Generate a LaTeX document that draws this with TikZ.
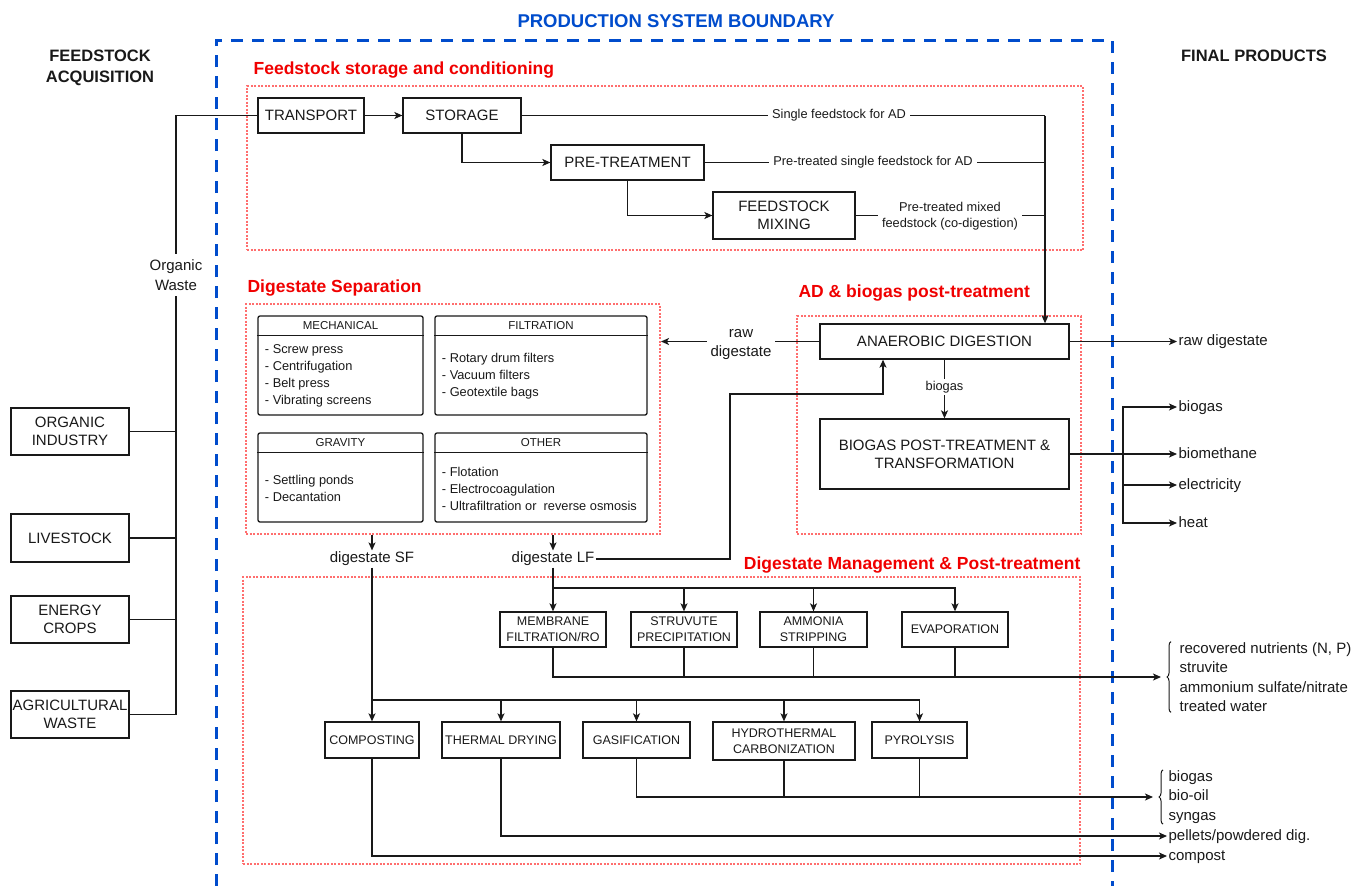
\documentclass[tikz,border=0pt]{standalone}
\usepackage{fontspec}
\setmainfont{Liberation Sans}
\usetikzlibrary{arrows.meta,positioning,calc,decorations.pathreplacing}

\definecolor{boundblue}{RGB}{0,76,204}
\definecolor{secred}{RGB}{240,0,0}
\definecolor{dotred}{RGB}{255,110,110}
\definecolor{ink}{RGB}{25,25,25}
\newcommand{\fsz}[2]{\fontsize{#1}{#2}\selectfont}

\begin{document}
\begin{tikzpicture}[x=1pt, y=-1pt, color=ink, line width=1.2pt,
  >={Stealth[length=8pt,width=7pt,inset=2pt]}]
\tikzset{
  every node/.style={text=ink},
  box/.style={draw, fill=white, line width=1.3pt, align=center, inner sep=1pt, font=\fsz{15}{18}},
  smallbox/.style={box, font=\fsz{12.5}{16}},
  catbox/.style={draw, fill=white, line width=1.3pt, rounded corners=2pt},
  cathead/.style={font=\fsz{11.5}{14}, inner sep=0pt},
  catlist/.style={anchor=west, align=left, font=\fsz{12.8}{17}, inner sep=0pt},
  section/.style={draw=dotred, line width=2pt, dash pattern=on 2pt off 1.5pt, inner sep=0pt},
  sectitle/.style={anchor=west, text=secred, font=\bfseries\fsz{17.5}{20}, inner sep=0pt},
  flowlabel/.style={fill=white, font=\fsz{12.8}{16}, align=center, inner xsep=4pt, inner ysep=2pt},
  midlabel/.style={font=\fsz{15}{18}, inner sep=1pt},
  product/.style={anchor=west, font=\fsz{15}{18}, inner xsep=1pt, inner ysep=0pt, text height=11pt, text depth=3pt},
  productlist/.style={anchor=west, align=left, font=\fsz{15}{19.5}, inner sep=0pt},
  heading/.style={font=\bfseries\fsz{16.5}{21}, align=center},
  brace/.style={decorate, decoration={brace, amplitude=4pt}, line width=1pt}
}
\useasboundingbox (0,0) rectangle (1368,886);

\draw[boundblue, line width=3pt, dash pattern=on 12pt off 9pt] (216,886) -- (216,40) -- (1112,40) -- (1112,886);
\node[text=boundblue, font=\bfseries\fsz{18.5}{22}] (boundary) at (676,21) {PRODUCTION SYSTEM BOUNDARY};
\node[heading] (acq) at (100,68) {FEEDSTOCK\\ACQUISITION};
\node[heading] (final) at (1254,56) {FINAL PRODUCTS};

\node[section, minimum width=836pt, minimum height=164pt] (storsec) at (665,168) {};
\node[section, minimum width=414pt, minimum height=230pt] (sepsec) at (453,419) {};
\node[section, minimum width=284pt, minimum height=218pt] (adsec) at (939,425) {};
\node[section, minimum width=837pt, minimum height=287pt] (mansec) at (661.5,720.5) {};
\node[sectitle] (storttl) at (253,70) {Feedstock storage and conditioning};
\node[sectitle] (septtl) at (247,288) {Digestate Separation};
\node[sectitle] (adttl) at (798,293) {AD \& biogas post-treatment};
\node[sectitle, anchor=east] (manttl) at (1081,565) {Digestate Management \& Post-treatment};

\node[box, minimum width=118pt, minimum height=47pt] (orgind) at (70,431.5) {ORGANIC\\INDUSTRY};
\node[box, minimum width=118pt, minimum height=48pt] (live) at (70,538) {LIVESTOCK};
\node[box, minimum width=118pt, minimum height=47pt] (energy) at (70,619.5) {ENERGY\\CROPS};
\node[box, minimum width=118pt, minimum height=47pt, inner xsep=0pt] (agri) at (70,714.5) {AGRICULTURAL\\WASTE};

\node[box, minimum width=106pt, minimum height=35pt] (trans) at (311,115.5) {TRANSPORT};
\node[box, minimum width=118pt, minimum height=35pt] (stor) at (462,115.5) {STORAGE};
\node[box, minimum width=153pt, minimum height=35pt] (pretr) at (627.5,162.5) {PRE-TREATMENT};
\node[box, minimum width=142pt, minimum height=47pt] (mix) at (784,215.5) {FEEDSTOCK\\MIXING};

\coordinate (trunk) at (176,115.5);
\draw (agri.east) -| (trunk) -- (trans.west);
\foreach \src in {orgind,live,energy}
  \draw (\src.east) -- (\src.east -| trunk);
\node[flowlabel, font=\fsz{15}{20}, inner ysep=5pt] (waste) at (176,275) {Organic\\Waste};

\draw[->] (trans) -- (stor);
\draw[->] (stor.south) |- (pretr.west);
\draw[->] (pretr.south) |- (mix.west);

\node[box, minimum width=249pt, minimum height=35pt] (ad) at (944.5,341.5) {ANAEROBIC DIGESTION};
\node[box, minimum width=249pt, minimum height=70pt] (bpt) at (944.5,454) {BIOGAS POST-TREATMENT \&\\TRANSFORMATION};

\coordinate (feed) at (1045,115.5);
\draw (stor.east) -- (feed);
\draw (pretr.east) -- (pretr.east -| feed);
\draw (mix.east) -- (mix.east -| feed);
\draw[->] (feed) -- (feed |- ad.north);
\node[flowlabel] (single) at (839,115.5) {Single feedstock for AD};
\node[flowlabel] (pretrlbl) at (873,162.5) {Pre-treated single feedstock for AD};
\node[flowlabel] (mixlbl) at (950,216) {Pre-treated mixed\\feedstock (co-digestion)};

\draw[->] (ad) -- (bpt);
\node[flowlabel, inner xsep=2pt] (gaslbl) at (944.5,387) {biogas};
\draw[->] (ad.west) -- (ad.west -| sepsec.east);
\node[flowlabel, font=\fsz{15}{19}] (rawlbl) at (741,345) {raw\\digestate};

\node[product] (rawout) at (1177,341.5) {raw digestate};
\draw[->] (ad.east) -- (rawout.west);
\node[product] (gasout) at (1177,407) {biogas};
\node[product] (methout) at (1177,454) {biomethane};
\node[product] (elecout) at (1177,485) {electricity};
\node[product] (heatout) at (1177,523) {heat};
\coordinate (esplit) at (1123,454);
\draw[->] (bpt.east) -- (methout.west);
\draw[->] (esplit) |- (gasout.west);
\draw[->] (esplit) |- (heatout.west);
\draw[->] (esplit |- elecout.west) -- (elecout.west);

\node[catbox, minimum width=165pt, minimum height=99pt] (mech) at (340.5,365.5) {};
\node[catbox, minimum width=212pt, minimum height=99pt] (filt) at (541,365.5) {};
\node[catbox, minimum width=165pt, minimum height=89pt] (grav) at (340.5,477.5) {};
\node[catbox, minimum width=212pt, minimum height=89pt] (other) at (541,477.5) {};
\foreach \cat/\ttl in {mech/MECHANICAL, filt/FILTRATION, grav/GRAVITY, other/OTHER} {
  \draw[line width=1.3pt] ([yshift=-20pt]\cat.north west) -- ([yshift=-20pt]\cat.north east);
  \node[cathead] (\cat-ttl) at ([yshift=-10pt]\cat.north) {\ttl};
}
\node[catlist] (mech-list) at ([xshift=7pt,yshift=-10.5pt]mech.west) {- Screw press\\- Centrifugation\\- Belt press\\- Vibrating screens};
\node[catlist] (filt-list) at ([xshift=7pt,yshift=-11pt]filt.west) {- Rotary drum filters\\- Vacuum filters\\- Geotextile bags};
\node[catlist] (grav-list) at ([xshift=7pt,yshift=-10.5pt]grav.west) {- Settling ponds\\- Decantation};
\node[catlist] (other-list) at ([xshift=7pt,yshift=-11pt]other.west) {- Flotation\\- Electrocoagulation\\- Ultrafiltration or~ reverse osmosis};

\node[midlabel] (sf) at (372,559) {digestate SF};
\node[midlabel] (lf) at (553,559) {digestate LF};
\draw[->] (sf.north |- sepsec.south) -- (sf.north);
\draw[->] (lf.north |- sepsec.south) -- (lf.north);
\draw[->] (lf.east) -| (730,394) -| ([xshift=-61.5pt]ad.south);

\node[smallbox, minimum width=106pt, minimum height=35pt] (mem) at (553,629.5) {MEMBRANE\\FILTRATION/RO};
\node[smallbox, minimum width=106pt, minimum height=35pt] (stru) at (684,629.5) {STRUVUTE\\PRECIPITATION};
\node[smallbox, minimum width=107pt, minimum height=35pt] (amm) at (813.5,629.5) {AMMONIA\\STRIPPING};
\node[smallbox, minimum width=106pt, minimum height=35pt] (evap) at (955,629.5) {EVAPORATION};

\node[smallbox, minimum width=94pt, minimum height=36pt] (comp) at (372,740) {COMPOSTING};
\node[smallbox, minimum width=118pt, minimum height=36pt] (dry) at (501,740) {THERMAL DRYING};
\node[smallbox, minimum width=107pt, minimum height=36pt] (gasif) at (636.5,740) {GASIFICATION};
\node[smallbox, minimum width=142pt, minimum height=38pt] (htc) at (784,741) {HYDROTHERMAL\\CARBONIZATION};
\node[smallbox, minimum width=95pt, minimum height=36pt] (pyro) at (919.5,740) {PYROLYSIS};

\coordinate (lfsplit) at (553,588);
\draw[->] (lf) -- (mem);
\draw[->] (lfsplit) -| (evap.north);
\foreach \n in {stru,amm}
  \draw[->] (\n.north |- lfsplit) -- (\n.north);

\node[productlist] (nut) at (1179,677) {recovered nutrients (N, P)\\struvite\\ammonium sulfate/nitrate\\treated water};
\draw[->] (mem.south) |- ([xshift=-18pt]nut.west);
\foreach \n in {stru,amm,evap}
  \draw (\n.south) -- (\n.south |- nut.west);
\draw[brace] ([xshift=-8pt]nut.south west) -- ([xshift=-8pt]nut.north west);

\coordinate (sfsplit) at (372,700);
\draw[->] (sf) -- (comp);
\draw[->] (sfsplit) -| (pyro.north);
\foreach \n in {dry,gasif,htc}
  \draw[->] (\n.north |- sfsplit) -- (\n.north);

\node[productlist] (gasprod) at (1168,797) {biogas\\bio-oil\\syngas};
\draw[->] (gasif.south) |- ([xshift=-15pt]gasprod.west);
\foreach \n in {htc,pyro}
  \draw (\n.south) -- (\n.south |- gasprod.west);
\draw[brace] ([xshift=-5pt]gasprod.south west) -- ([xshift=-5pt]gasprod.north west);

\node[product] (pellet) at (1167,836) {pellets/powdered dig.};
\node[product] (compost) at (1167,856) {compost};
\draw[->] (dry.south) |- (pellet.west);
\draw[->] (comp.south) |- (compost.west);

\end{tikzpicture}
\end{document}
